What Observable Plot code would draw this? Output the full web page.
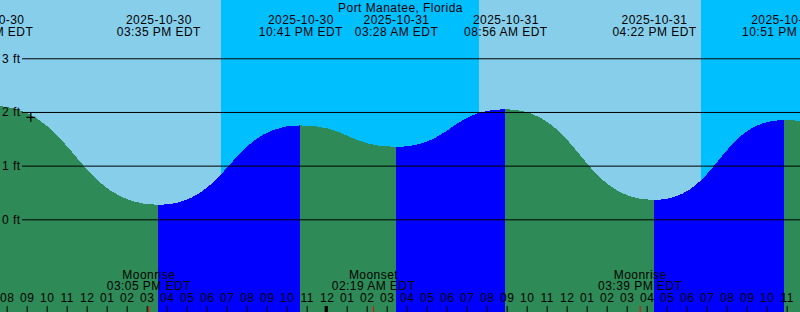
<!DOCTYPE html>
<html>
<head>
<meta charset="utf-8">
<script src="https://cdn.jsdelivr.net/npm/d3@7"></script>
<script src="https://cdn.jsdelivr.net/npm/@observablehq/plot@0.6"></script>
<style>
html, body { margin: 0; padding: 0; background: #87CEEB; overflow: hidden; }
svg text { letter-spacing: 0.45px; }
</style>
</head>
<body>
<div id="chart"></div>
<script>
// ---- data (local EDT wall-clock times) ----
const stationName = "Port Manatee, Florida";
const timeZoneLabel = "EDT";
const windowStart = "2025-10-30T07:40";
const windowEnd = "2025-10-31T23:40";
const heightDomain = [-1.727, 4.086];

// high / low tide events (first and last lie outside the visible window, estimated)
const tideTimes = ["2025-10-30T07:13", "2025-10-30T15:35", "2025-10-30T22:41", "2025-10-31T03:28",
                   "2025-10-31T08:56", "2025-10-31T16:22", "2025-10-31T22:51", "2025-11-01T04:37"];
const tideHeights = [2.12, 0.27, 1.75, 1.35, 2.05, 0.36, 1.85, 1.30];

// night intervals (sunset -> sunrise)
const nightStarts = ["2025-10-30T18:43", "2025-10-31T18:43"];
const nightEnds   = ["2025-10-31T07:37", "2025-11-01T07:38"];

// moon events
const moonEvents = ["Moonrise", "Moonset", "Moonrise"];
const moonTimes  = ["2025-10-30T15:05", "2025-10-31T02:19", "2025-10-31T15:39"];

// current-time marker
const markerTime = "2025-10-30T09:11";
const markerHeight = 1.91;

// height grid
const gridFeet = [0, 1, 2, 3];
const gridLabels = ["0 ft", "1 ft", "2 ft", "3 ft"];

const colors = { day: "#87CEEB", night: "#00BFFF", falling: "#2E8B57", rising: "#0000FF" };

// ---- build tables ----
const parse = s => new Date(s + ":00Z");
const fmtDate = d3.utcFormat("%Y-%m-%d");
const fmtTime = d => d3.utcFormat("%I:%M %p")(d) + " " + timeZoneLabel;
const fmtHour = d3.utcFormat("%I");

const tides = tideTimes.map((t, i) => ({ t: parse(t), h: tideHeights[i] }));
const segs = [];
for (let i = 0; i < tides.length - 1; i++) {
  const fill = tides[i + 1].h > tides[i].h ? colors.rising : colors.falling;
  segs.push({ ...tides[i], seg: i, fill }, { ...tides[i + 1], seg: i, fill });
}
const nights = nightStarts.map((s, i) => ({ start: parse(s), end: parse(nightEnds[i]) }));
const moons = moonEvents.map((name, i) => ({ name, t: parse(moonTimes[i]) }));
const hours = d3.utcHour.range(parse(windowStart), parse(windowEnd));
const midnights = hours.filter(d => d.getUTCHours() === 0);

const plusSymbol = {
  draw(context, size) {
    const r = Math.sqrt(size / Math.PI);
    context.moveTo(-r, 0); context.lineTo(r, 0);
    context.moveTo(0, -r); context.lineTo(0, r);
  }
};

const chart = Plot.plot({
  width: 800,
  height: 312,
  margin: 0,
  x: { type: "utc", domain: [parse(windowStart), parse(windowEnd)], axis: null },
  y: { domain: heightDomain, axis: null },
  color: { type: "identity" },
  style: { background: colors.day, fontFamily: "'Liberation Sans', Arial, sans-serif", fontSize: "12px", color: "black" },
  marks: [
    Plot.rect(nights, { x1: "start", x2: "end", y1: heightDomain[0], y2: heightDomain[1], fill: colors.night, shapeRendering: "crispEdges" }),
    Plot.areaY(segs, { x: "t", y1: heightDomain[0], y2: "h", z: "seg", fill: "fill", curve: "bump-x", shapeRendering: "crispEdges", clip: true }),
    Plot.ruleY(gridFeet, { y: d => d, stroke: "black", strokeWidth: 1, insetLeft: 22 }),
    Plot.text(gridFeet, { y: d => d, text: (d, i) => gridLabels[i], frameAnchor: "left", textAnchor: "end", lineAnchor: "middle", dx: 20, fill: "black" }),
    Plot.dot([{ t: parse(markerTime), h: markerHeight }], { x: "t", y: "h", symbol: plusSymbol, r: 4.5, stroke: "black", fill: "none", strokeWidth: 1.3 }),
    Plot.text([stationName], { text: d => d, frameAnchor: "top", lineAnchor: "top", dy: 3, fill: "black" }),
    Plot.text(tides, { x: "t", text: d => fmtDate(d.t), frameAnchor: "top", lineAnchor: "top", dy: 14.8, fill: "black" }),
    Plot.text(tides, { x: "t", text: d => fmtTime(d.t), frameAnchor: "top", lineAnchor: "top", dy: 27.2, fill: "black" }),
    Plot.text(moons, { x: "t", text: "name", frameAnchor: "top", lineAnchor: "top", dy: 269.8, fill: "black" }),
    Plot.text(moons, { x: "t", text: d => fmtTime(d.t), frameAnchor: "top", lineAnchor: "top", dy: 280.8, fill: "black" }),
    Plot.text(hours, { x: d => d, text: d => fmtHour(d), frameAnchor: "top", lineAnchor: "top", dy: 293.2, fill: "black" }),
    Plot.ruleX(hours, { x: d => d, insetTop: 306, stroke: "black", strokeWidth: 1 }),
    Plot.ruleX(midnights, { x: d => d, insetTop: 306, stroke: "black", strokeWidth: 3, dx: -1 }),
    Plot.ruleX(moons, { x: "t", insetTop: 306, stroke: "red", strokeWidth: 1 })
  ]
});
document.getElementById("chart").appendChild(chart);
</script>
</body>
</html>
